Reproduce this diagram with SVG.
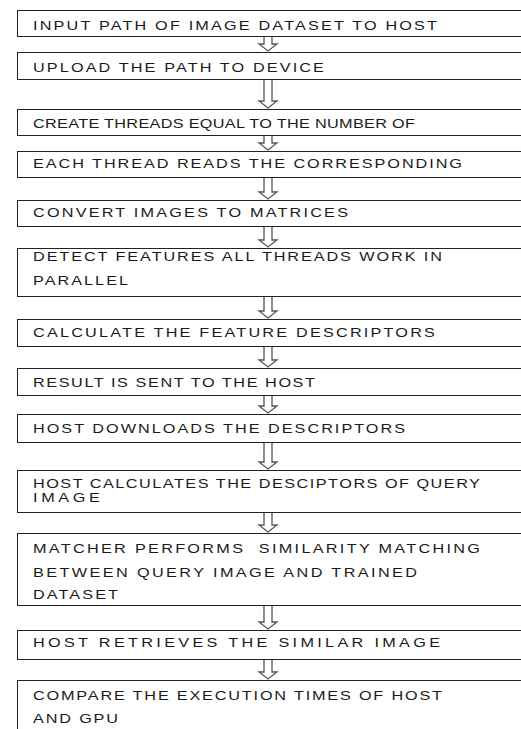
<svg xmlns="http://www.w3.org/2000/svg" width="521" height="729" viewBox="0 0 521 729">
<style>
.box{fill:#fff;stroke:#222;stroke-width:1}
.t{font-family:"Liberation Sans",Arial,sans-serif;font-size:12.5px;fill:#1a1a1a}
.arr{fill:none;stroke:#555;stroke-width:1.3;stroke-linejoin:miter}
</style>
<rect width="521" height="729" fill="#fff"/>
<g id="connectors">
<path class="arr" d="M264 36V44H259L268 51L277 44H272V36"/>
<path class="arr" d="M264 79V101H259L268 108L277 101H272V79"/>
<path class="arr" d="M264 135V143H259L268 150L277 143H272V135"/>
<path class="arr" d="M264 177V192H259L268 199L277 192H272V177"/>
<path class="arr" d="M264 226V240H259L268 247L277 240H272V226"/>
<path class="arr" d="M264 296V311H259L268 318L277 311H272V296"/>
<path class="arr" d="M264 346V360H259L268 367L277 360H272V346"/>
<path class="arr" d="M264 395V406H259L268 413L277 406H272V395"/>
<path class="arr" d="M264 442V462H259L268 469L277 462H272V442"/>
<path class="arr" d="M264 512V525H259L268 532L277 525H272V512"/>
<path class="arr" d="M264 605V622H259L268 629L277 622H272V605"/>
<path class="arr" d="M264 659V672H259L268 679L277 672H272V659"/>
</g>
<g id="n1"><rect class="box" x="17.5" y="10.5" width="520" height="26"/><text class="t" transform="translate(33 30) scale(1.3 1)" textLength="310.8" lengthAdjust="spacing">INPUT PATH OF IMAGE DATASET TO HOST</text></g>
<g id="n2"><rect class="box" x="17.5" y="52.5" width="520" height="27"/><text class="t" transform="translate(33 72) scale(1.3 1)" textLength="223.8" lengthAdjust="spacing">UPLOAD THE PATH TO DEVICE</text></g>
<g id="n3"><rect class="box" x="17.5" y="109.5" width="520" height="26"/><text class="t" transform="translate(33 128) scale(1.3 1)" textLength="293.8" lengthAdjust="spacing">CREATE THREADS EQUAL TO THE NUMBER OF</text></g>
<g id="n4"><rect class="box" x="17.5" y="151.5" width="520" height="26"/><text class="t" transform="translate(33 168) scale(1.3 1)" textLength="330" lengthAdjust="spacing">EACH THREAD READS THE CORRESPONDING</text></g>
<g id="n5"><rect class="box" x="17.5" y="200.5" width="520" height="26"/><text class="t" transform="translate(33 217) scale(1.3 1)" textLength="242.3" lengthAdjust="spacing">CONVERT IMAGES TO MATRICES</text></g>
<g id="n6"><rect class="box" x="17.5" y="248.5" width="520" height="48"/><text class="t" transform="translate(33 261) scale(1.3 1)" textLength="314.6" lengthAdjust="spacing">DETECT FEATURES ALL THREADS WORK IN</text><text class="t" transform="translate(33 285) scale(1.3 1)" textLength="73.1" lengthAdjust="spacing">PARALLEL</text></g>
<g id="n7"><rect class="box" x="17.5" y="319.5" width="520" height="27"/><text class="t" transform="translate(33 337) scale(1.3 1)" textLength="309.2" lengthAdjust="spacing">CALCULATE THE FEATURE DESCRIPTORS</text></g>
<g id="n8"><rect class="box" x="17.5" y="368.5" width="520" height="27"/><text class="t" transform="translate(33 387) scale(1.3 1)" textLength="216.9" lengthAdjust="spacing">RESULT IS SENT TO THE HOST</text></g>
<g id="n9"><rect class="box" x="17.5" y="414.5" width="520" height="28"/><text class="t" transform="translate(33 433) scale(1.3 1)" textLength="286.2" lengthAdjust="spacing">HOST DOWNLOADS THE DESCRIPTORS</text></g>
<g id="n10"><rect class="box" x="17.5" y="470.5" width="520" height="42"/><text class="t" transform="translate(33 488) scale(1.3 1)" textLength="343.8" lengthAdjust="spacing">HOST CALCULATES THE DESCIPTORS OF QUERY</text><text class="t" transform="translate(33 502) scale(1.3 1)" textLength="51.5" lengthAdjust="spacing">IMAGE</text></g>
<g id="n11"><rect class="box" x="17.5" y="533.5" width="520" height="72"/><text class="t" transform="translate(33 553) scale(1.3 1)" textLength="343.8" lengthAdjust="spacing" xml:space="preserve">MATCHER PERFORMS  SIMILARITY MATCHING</text><text class="t" transform="translate(33 577) scale(1.3 1)" textLength="295.4" lengthAdjust="spacing">BETWEEN QUERY IMAGE AND TRAINED</text><text class="t" transform="translate(33 599) scale(1.3 1)" textLength="65.4" lengthAdjust="spacing">DATASET</text></g>
<g id="n12"><rect class="box" x="17.5" y="630.5" width="520" height="29"/><text class="t" transform="translate(33 647) scale(1.3 1)" textLength="313.1" lengthAdjust="spacing">HOST RETRIEVES THE SIMILAR IMAGE</text></g>
<g id="n13"><rect class="box" x="17.5" y="680.5" width="520" height="60"/><text class="t" transform="translate(33 700) scale(1.3 1)" textLength="314.6" lengthAdjust="spacing">COMPARE THE EXECUTION TIMES OF HOST</text><text class="t" transform="translate(33 723) scale(1.3 1)" textLength="65.4" lengthAdjust="spacing">AND GPU</text></g>
</svg>
